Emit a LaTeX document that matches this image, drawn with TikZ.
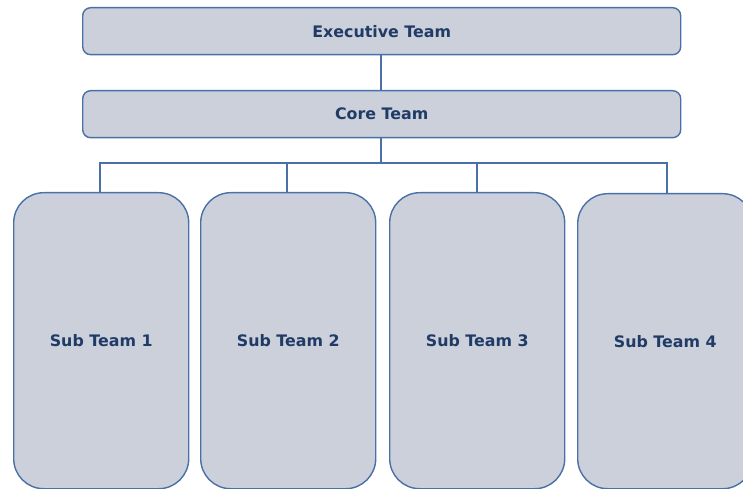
\documentclass[tikz,border=0pt]{standalone}
\usepackage{fontspec}
\setmainfont{DejaVu Sans}
\begin{document}
\begin{tikzpicture}[x=1bp,y=-1bp,
  boxline/.style={draw=boxblue,line width=1.4bp},
  lbl/.style={font=\bfseries\fontsize{15.9}{18}\selectfont,text=textnavy},
  topbox/.style={boxline,fill=boxfill,rounded corners=8bp,minimum width=598bp,minimum height=47bp,inner sep=0pt,anchor=north west,lbl},
  subbox/.style={boxline,fill=boxfill,rounded corners=30bp,minimum width=175bp,minimum height=296bp,inner sep=0pt,anchor=north west,lbl},
  conn/.style={draw=boxblue,line width=1.1bp}]
\definecolor{boxblue}{HTML}{4A70A8}
\definecolor{boxfill}{HTML}{CCD0DB}
\definecolor{textnavy}{HTML}{1F3B66}
\useasboundingbox (0,0) rectangle (743,489);
\clip (0,0) rectangle (743,489);
\node[topbox] (exec) at (82,7) {Executive Team};
\node[topbox] (core) at (82,90) {Core Team};
\node[subbox] (s1) at (13,192) {Sub Team 1};
\node[subbox] (s2) at (200,192) {Sub Team 2};
\node[subbox] (s3) at (389,192) {Sub Team 3};
\node[subbox, minimum height=295bp] (s4) at (577,193) {Sub Team 4};
\coordinate (bus) at (381,163);
\draw[conn] (exec.south -| bus) -- (core.north -| bus);
\draw[conn] (core.south -| bus) -- (bus);
\draw[conn] (s1.north -| 100,0) |- (bus) -| (s4.north -| 667,0);
\draw[conn] (s2.north -| 287,0) -- (287,163);
\draw[conn] (s3.north -| 477,0) -- (477,163);
\end{tikzpicture}
\end{document}
